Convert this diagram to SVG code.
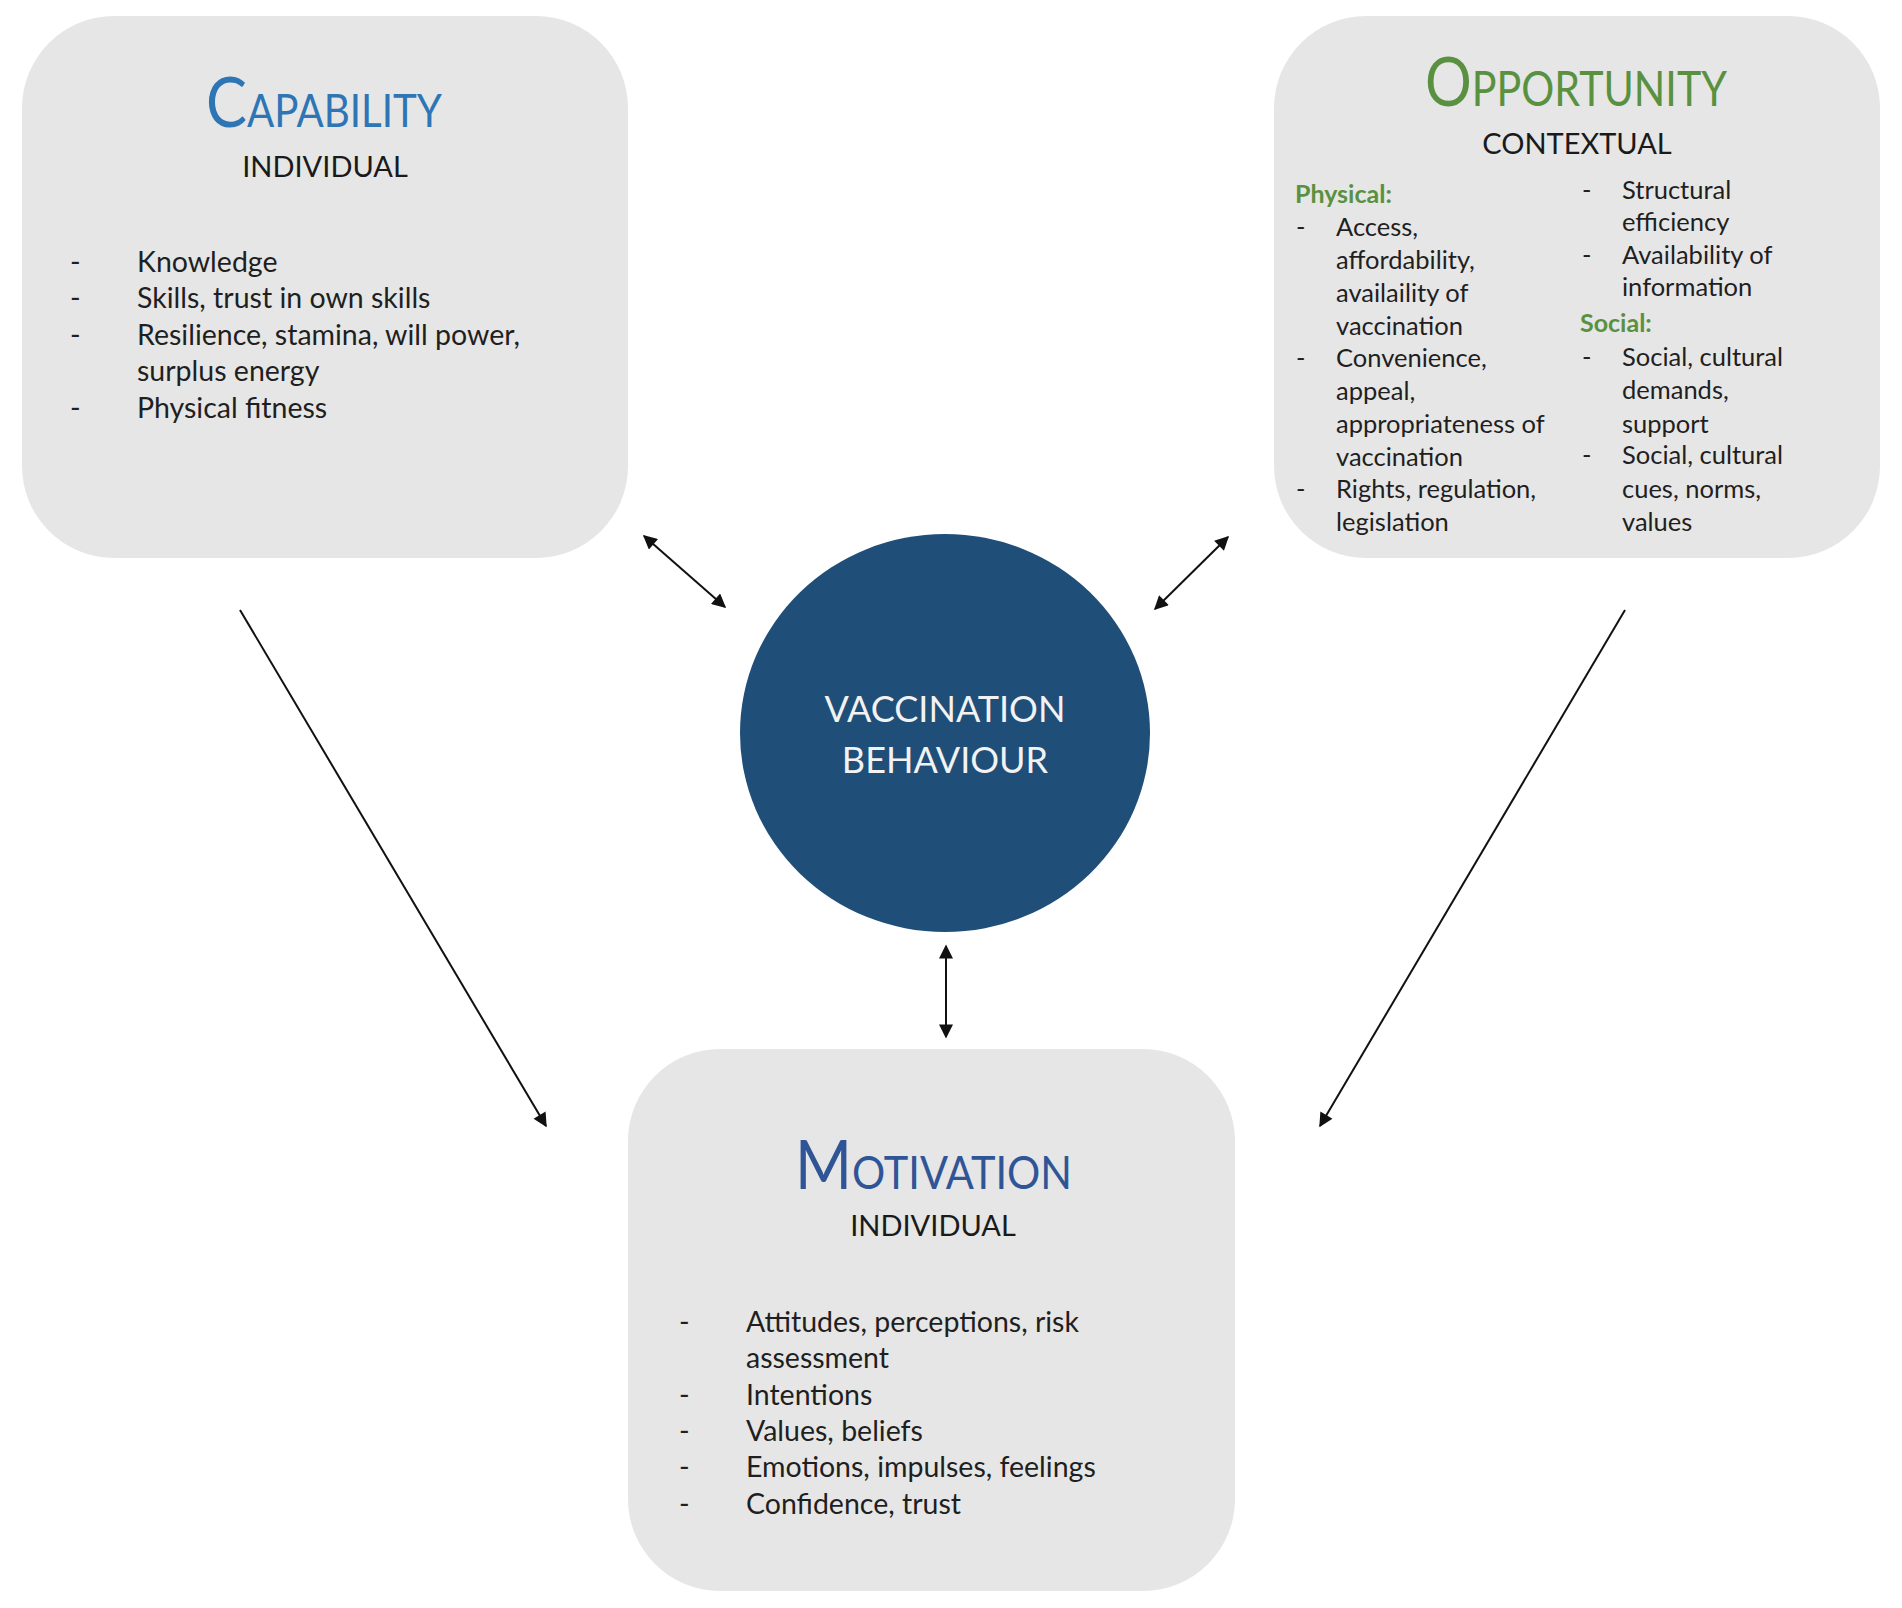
<svg xmlns="http://www.w3.org/2000/svg" width="1902" height="1608" viewBox="0 0 1902 1608">
<defs>
<style>
.box{fill:#e6e6e6;}
.t{font-family:Lato,"Open Sans","DejaVu Sans",sans-serif;}
.sub{font-size:29px;fill:#1a1a1a;text-anchor:middle;}
.li{font-size:28.5px;fill:#1f1f1f;}
.lo{font-size:25.5px;fill:#1f1f1f;}
.hd{font-size:25px;fill:#5a9140;font-weight:bold;}
.conn{stroke:#111;stroke-width:2;fill:none;}
</style>
<marker id="ah" viewBox="0 0 10 10" refX="9" refY="5" markerWidth="16" markerHeight="14" markerUnits="userSpaceOnUse" orient="auto-start-reverse">
<path d="M0,0 L10,5 L0,10 z" fill="#111"/>
</marker>
</defs>
<rect width="1902" height="1608" fill="#ffffff"/>

<g id="capability">
<rect class="box" x="22" y="16" width="606" height="542" rx="92"/>
<text class="t" x="206" y="127" textLength="236" lengthAdjust="spacingAndGlyphs" fill="#2e75b6"><tspan font-size="70">C</tspan><tspan font-size="46">APABILITY</tspan></text>
<text class="t sub" x="325" y="177">INDIVIDUAL</text>
<g class="t li">
<text x="70" y="272">-</text><text x="137" y="272">Knowledge</text>
<text x="70" y="308">-</text><text x="137" y="308">Skills, trust in own skills</text>
<text x="70" y="345">-</text><text x="137" y="345">Resilience, stamina, will power,</text>
<text x="137" y="381">surplus energy</text>
<text x="70" y="418">-</text><text x="137" y="418">Physical fitness</text>
</g>
</g>

<g id="opportunity">
<rect class="box" x="1274" y="16" width="606" height="542" rx="92"/>
<text class="t" x="1425" y="106" textLength="302" lengthAdjust="spacingAndGlyphs" fill="#5a9140"><tspan font-size="68">O</tspan><tspan font-size="48">PPORTUNITY</tspan></text>
<text class="t sub" x="1577" y="154">CONTEXTUAL</text>
<text class="t hd" x="1295" y="203">Physical:</text>
<g class="t lo">
<text x="1296" y="236">-</text><text x="1336" y="236">Access,</text>
<text x="1336" y="269">affordability,</text>
<text x="1336" y="302">availaility of</text>
<text x="1336" y="335">vaccination</text>
<text x="1296" y="367">-</text><text x="1336" y="367">Convenience,</text>
<text x="1336" y="400">appeal,</text>
<text x="1336" y="433">appropriateness of</text>
<text x="1336" y="466">vaccination</text>
<text x="1296" y="498">-</text><text x="1336" y="498">Rights, regulation,</text>
<text x="1336" y="531">legislation</text>
<text x="1582" y="199">-</text><text x="1622" y="199">Structural</text>
<text x="1622" y="231">efficiency</text>
<text x="1582" y="264">-</text><text x="1622" y="264">Availability of</text>
<text x="1622" y="296">information</text>
<text x="1582" y="366">-</text><text x="1622" y="366">Social, cultural</text>
<text x="1622" y="399">demands,</text>
<text x="1622" y="433">support</text>
<text x="1582" y="464">-</text><text x="1622" y="464">Social, cultural</text>
<text x="1622" y="498">cues, norms,</text>
<text x="1622" y="531">values</text>
</g>
<text class="t hd" x="1580" y="332">Social:</text>
</g>

<g id="behaviour">
<ellipse cx="945" cy="733" rx="205" ry="199" fill="#1f4e79"/>
<text class="t" x="945" y="722" font-size="36" fill="#f2f2f2" text-anchor="middle">VACCINATION</text>
<text class="t" x="945" y="773" font-size="36" fill="#f2f2f2" text-anchor="middle">BEHAVIOUR</text>
</g>

<g id="motivation">
<rect class="box" x="628" y="1049" width="607" height="542" rx="92"/>
<text class="t" x="795" y="1189" textLength="277" lengthAdjust="spacingAndGlyphs" fill="#2f5597"><tspan font-size="68">M</tspan><tspan font-size="46">OTIVATION</tspan></text>
<text class="t sub" x="933" y="1236">INDIVIDUAL</text>
<g class="t li">
<text x="679" y="1332">-</text><text x="746" y="1332">Attitudes, perceptions, risk</text>
<text x="746" y="1368">assessment</text>
<text x="679" y="1405">-</text><text x="746" y="1405">Intentions</text>
<text x="679" y="1441">-</text><text x="746" y="1441">Values, beliefs</text>
<text x="679" y="1477">-</text><text x="746" y="1477">Emotions, impulses, feelings</text>
<text x="679" y="1514">-</text><text x="746" y="1514">Confidence, trust</text>
</g>
</g>

<g id="connectors">
<line class="conn" x1="644" y1="536" x2="725" y2="607" marker-start="url(#ah)" marker-end="url(#ah)"/>
<line class="conn" x1="1228" y1="537" x2="1155" y2="609" marker-start="url(#ah)" marker-end="url(#ah)"/>
<line class="conn" x1="946" y1="946" x2="946" y2="1037" marker-start="url(#ah)" marker-end="url(#ah)"/>
<line class="conn" x1="240" y1="610" x2="546" y2="1126" marker-end="url(#ah)"/>
<line class="conn" x1="1625" y1="610" x2="1320" y2="1126" marker-end="url(#ah)"/>
</g>
</svg>
